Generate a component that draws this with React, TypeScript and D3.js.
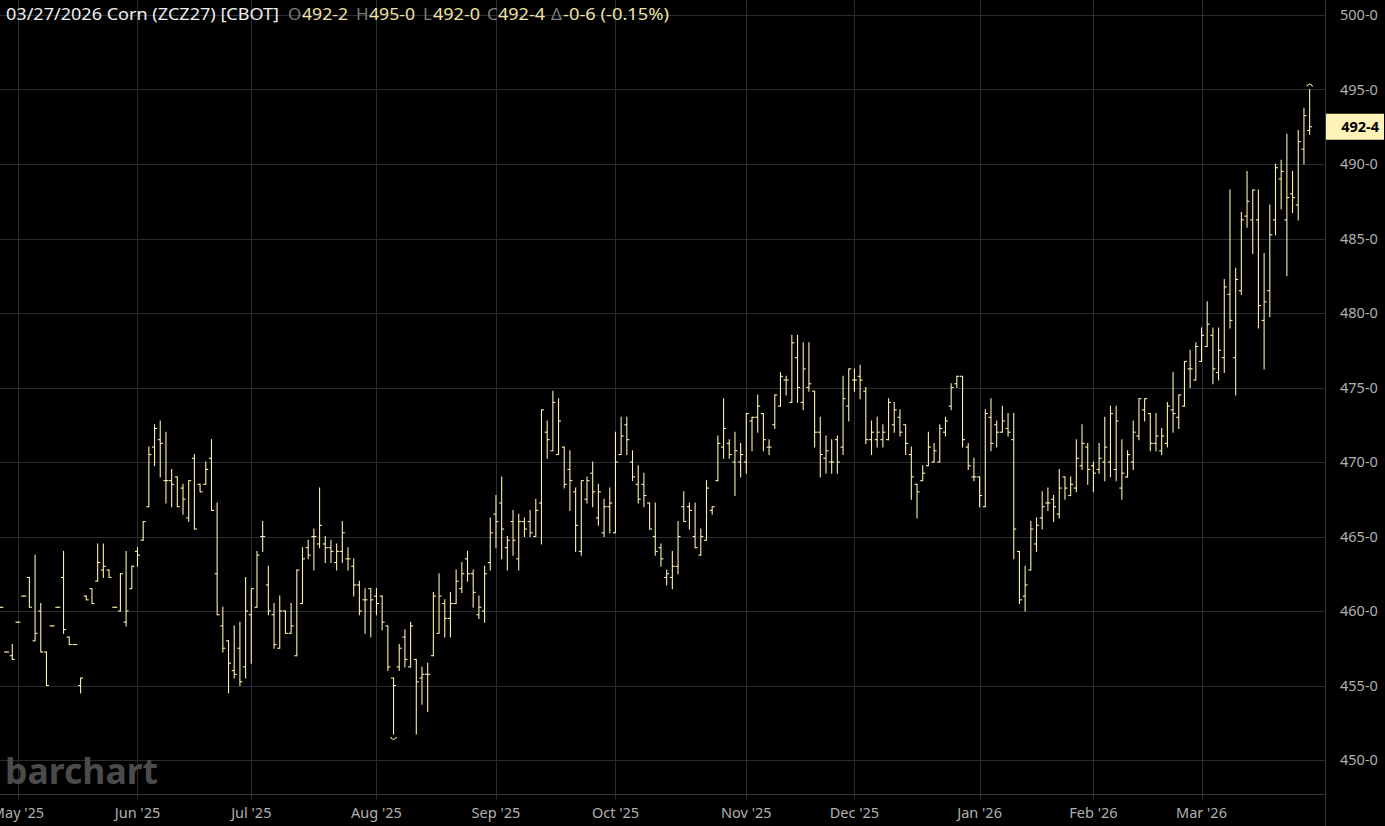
import React from 'react';
import * as d3 from 'd3';

// ---- categories: CBOT trading sessions shown on the chart ----
const FIRST_SESSION = [2025, 3, 28];
const LAST_SESSION = [2026, 2, 27];
const HOLIDAYS = ['2025-05-26', '2025-06-19', '2025-07-04', '2025-09-01', '2025-11-27', '2025-12-25', '2026-01-01', '2026-01-19', '2026-02-16'];

// ---- series values (cents / bushel) ----
const OPEN = [
  460.25, 457.25, 457.0, 459.25, 461.0, 462.25, 458.0, 460.0, 457.25, 459.0,
  460.25, 462.25, 458.25, 457.75, 455.0, 461.0, 461.5, 462.0, 462.75, 462.75,
  460.25, 460.0, 459.25, 461.5, 464.0, 464.75, 467.0, 471.0, 471.5, 468.75,
  468.75, 469.0, 468.25, 466.25, 470.25, 468.5, 468.5, 470.25, 462.5, 459.0,
  458.0, 456.0, 457.5, 456.25, 459.75, 460.25, 465.0, 461.75, 459.75, 457.5,
  460.0, 458.5, 457.0, 460.5, 464.25, 465.0, 464.5, 464.5, 464.25, 463.25,
  464.0, 463.5, 463.0, 461.75, 460.75, 461.5, 461.0, 461.0, 459.0, 455.5,
  456.25, 458.25, 456.25, 456.75, 455.5, 455.75, 457.0, 458.5, 460.5, 459.5,
  460.5, 461.5, 463.5, 462.5, 459.75, 460.0, 463.25, 466.5, 467.25, 464.25,
  466.0, 463.5, 466.0, 466.0, 465.0, 467.25, 472.0, 470.75, 470.5, 471.0,
  469.5, 468.0, 464.0, 467.5, 469.25, 466.25, 465.25, 467.0, 465.25, 470.5,
  472.5, 470.0, 468.5, 468.5, 467.25, 465.0, 464.25, 462.25, 462.25, 463.0,
  467.0, 467.0, 465.0, 463.75, 464.75, 466.75, 468.75, 471.0, 471.25, 470.0,
  470.0, 470.0, 472.75, 473.0, 473.25, 471.0, 472.5, 473.75, 475.5, 474.0,
  477.0, 474.0, 475.0, 474.75, 472.0, 470.25, 470.0, 471.5, 471.0, 473.75,
  475.5, 475.75, 474.75, 471.5, 471.5, 471.5, 471.5, 472.5, 473.0, 472.5,
  470.5, 468.5, 468.75, 469.75, 470.0, 470.0, 472.0, 473.75, 475.25, 475.75,
  471.0, 469.0, 469.0, 467.0, 473.0, 472.5, 472.0, 472.25, 471.5, 464.0,
  461.0, 462.75, 464.5, 466.25, 467.25, 467.5, 466.5, 469.0, 467.75, 468.25,
  469.75, 471.0, 469.75, 469.5, 470.0, 470.0, 469.5, 468.25, 469.0, 470.0,
  471.75, 473.5, 473.25, 471.25, 470.75, 471.25, 473.5, 473.0, 473.75, 476.25,
  475.5, 476.75, 477.75, 478.5, 476.0, 477.0, 481.25, 477.0, 481.5, 486.5,
  486.25, 486.25, 479.5, 481.5, 486.25, 489.0, 486.25, 488.0, 487.25, 491.0,
  492.25,
];
const HIGH = [
  460.25, 457.25, 457.75, 459.25, 461.0, 462.25, 463.75, 460.5, 457.25, 459.0,
  460.25, 464.0, 458.25, 457.75, 455.5, 461.0, 461.5, 464.5, 464.5, 462.75,
  460.25, 462.5, 464.0, 463.0, 464.25, 466.0, 471.0, 472.5, 472.75, 472.0,
  469.5, 469.0, 468.5, 468.75, 470.5, 468.5, 470.0, 471.5, 467.25, 460.25,
  458.0, 459.0, 459.25, 462.25, 461.5, 464.0, 466.0, 463.0, 460.5, 461.0,
  460.0, 460.5, 462.75, 464.25, 464.75, 465.5, 468.25, 465.0, 464.75, 464.5,
  466.0, 464.25, 463.5, 462.0, 461.5, 461.5, 461.5, 461.0, 459.0, 455.5,
  457.75, 458.75, 459.25, 456.75, 456.25, 456.5, 461.25, 462.5, 460.75, 461.25,
  462.75, 463.25, 464.0, 462.75, 461.0, 463.0, 466.25, 467.75, 469.0, 465.0,
  466.75, 466.5, 466.25, 466.75, 467.5, 473.5, 472.75, 474.75, 474.25, 471.0,
  470.75, 468.25, 468.75, 469.0, 470.0, 468.5, 467.5, 468.25, 472.0, 473.0,
  473.0, 470.75, 469.75, 469.25, 467.25, 467.25, 464.5, 462.75, 464.0, 466.0,
  468.0, 467.25, 467.25, 465.5, 468.75, 467.0, 471.75, 474.25, 471.5, 472.0,
  471.25, 473.25, 473.0, 474.5, 473.25, 471.5, 474.5, 476.0, 475.75, 478.5,
  478.5, 478.0, 478.0, 474.75, 473.0, 471.75, 471.5, 471.75, 475.75, 476.25,
  476.25, 476.5, 475.0, 472.75, 473.0, 472.5, 474.25, 474.0, 473.5, 472.5,
  471.0, 468.5, 469.75, 472.0, 471.25, 472.5, 473.0, 475.25, 475.75, 475.75,
  471.25, 470.25, 469.0, 473.5, 474.25, 472.75, 473.75, 473.25, 473.25, 464.0,
  463.0, 466.0, 466.25, 468.0, 468.25, 467.75, 469.5, 469.0, 469.0, 471.5,
  472.5, 471.25, 470.0, 471.25, 473.0, 473.75, 473.75, 471.5, 470.75, 472.75,
  474.25, 474.25, 473.25, 473.25, 472.25, 474.0, 476.0, 474.5, 476.75, 477.5,
  478.0, 479.0, 480.75, 479.0, 479.0, 482.25, 488.25, 483.0, 486.75, 489.5,
  488.25, 488.25, 484.0, 487.25, 490.0, 490.25, 492.0, 489.5, 492.25, 493.75,
  495.0,
];
const LOW = [
  460.25, 457.25, 456.75, 459.25, 461.0, 460.25, 458.0, 457.25, 455.0, 459.0,
  460.25, 458.5, 457.75, 457.75, 454.5, 460.75, 460.5, 462.0, 462.25, 462.25,
  460.25, 460.0, 459.0, 461.5, 463.0, 464.75, 467.0, 469.75, 469.0, 467.25,
  467.0, 467.0, 466.5, 466.0, 465.5, 468.0, 468.5, 466.75, 459.75, 457.25,
  454.5, 455.5, 455.0, 455.5, 456.5, 460.25, 464.0, 459.75, 457.5, 457.5,
  458.5, 458.5, 457.0, 460.5, 463.5, 462.75, 464.25, 463.25, 463.25, 462.75,
  463.25, 462.75, 461.0, 459.75, 458.5, 458.25, 459.75, 458.75, 456.0, 451.75,
  456.0, 456.25, 456.25, 451.75, 453.75, 453.25, 457.0, 458.5, 458.25, 458.25,
  460.5, 461.25, 462.0, 460.25, 459.5, 459.25, 462.75, 464.25, 463.5, 462.75,
  463.75, 462.75, 465.0, 465.0, 465.0, 464.5, 470.25, 470.75, 470.5, 468.25,
  466.75, 464.0, 463.75, 467.25, 467.0, 465.75, 465.0, 465.25, 465.25, 470.5,
  470.5, 468.75, 467.25, 467.0, 465.5, 463.75, 463.0, 461.75, 461.5, 462.5,
  466.0, 465.5, 464.25, 463.75, 464.75, 466.5, 468.75, 470.25, 470.25, 467.75,
  469.0, 469.25, 470.75, 472.0, 470.75, 470.5, 472.25, 473.75, 474.5, 474.0,
  474.0, 473.5, 474.75, 471.0, 469.0, 469.25, 469.25, 469.25, 470.5, 472.75,
  474.75, 474.25, 471.25, 470.5, 471.0, 471.0, 471.5, 472.0, 471.75, 470.5,
  467.5, 466.25, 468.75, 469.75, 470.0, 470.0, 471.75, 473.5, 475.0, 471.0,
  469.5, 468.75, 467.0, 467.0, 470.75, 471.0, 472.0, 471.75, 463.5, 460.5,
  460.0, 462.75, 464.0, 465.5, 466.75, 466.0, 466.25, 467.5, 467.75, 468.0,
  469.5, 468.5, 468.0, 469.25, 468.75, 469.0, 468.75, 467.5, 469.0, 469.5,
  471.5, 472.75, 470.75, 470.75, 470.5, 471.0, 472.0, 472.25, 473.75, 475.0,
  475.5, 476.75, 477.75, 475.25, 475.5, 476.0, 479.0, 474.5, 481.25, 485.75,
  484.0, 479.0, 476.25, 479.75, 485.25, 487.0, 482.5, 486.75, 486.25, 490.0,
  492.0,
];
const CLOSE = [
  460.25, 457.25, 456.75, 459.25, 461.0, 460.25, 458.5, 457.25, 455.0, 459.0,
  460.25, 458.75, 457.75, 457.75, 455.5, 460.75, 460.5, 463.25, 463.0, 462.25,
  460.25, 462.5, 460.0, 463.0, 463.75, 466.0, 470.5, 472.25, 471.25, 468.75,
  468.5, 467.0, 467.5, 468.75, 465.5, 468.0, 469.5, 466.75, 459.75, 457.5,
  456.5, 455.75, 455.25, 460.0, 461.5, 463.75, 465.0, 460.0, 457.75, 460.0,
  458.5, 459.0, 462.75, 463.5, 463.75, 465.0, 465.75, 464.25, 464.0, 464.0,
  465.25, 463.5, 461.75, 460.0, 460.75, 460.75, 460.5, 459.25, 456.25, 455.0,
  457.5, 456.75, 459.0, 455.25, 455.75, 455.75, 461.0, 461.0, 459.5, 460.5,
  462.0, 462.5, 462.5, 461.25, 460.25, 462.5, 465.25, 466.0, 465.5, 464.75,
  464.75, 466.0, 465.5, 465.25, 466.75, 473.5, 471.5, 474.0, 472.75, 468.5,
  468.75, 465.75, 468.75, 468.75, 468.0, 468.0, 467.0, 467.25, 470.0, 471.75,
  471.5, 469.0, 467.5, 467.75, 465.5, 464.0, 463.5, 462.5, 463.0, 465.0,
  466.0, 466.75, 464.25, 465.0, 468.25, 467.0, 471.25, 472.25, 470.5, 470.75,
  470.5, 473.25, 473.0, 473.75, 471.5, 471.0, 474.5, 475.75, 475.5, 478.0,
  475.0, 476.25, 475.25, 472.0, 470.5, 470.75, 470.0, 470.0, 474.25, 476.25,
  475.5, 475.5, 471.5, 472.0, 472.0, 472.0, 474.0, 473.5, 472.0, 471.25,
  469.0, 468.0, 469.25, 471.0, 470.75, 472.25, 472.75, 475.0, 475.75, 471.5,
  469.75, 469.0, 467.75, 473.25, 471.25, 472.0, 472.75, 472.0, 465.5, 460.75,
  461.75, 465.5, 465.75, 467.0, 467.25, 467.0, 468.25, 468.25, 468.5, 470.25,
  471.25, 469.5, 469.25, 470.25, 471.0, 473.25, 472.75, 469.25, 470.5, 472.0,
  474.25, 474.25, 471.25, 471.75, 471.75, 473.75, 473.25, 474.5, 476.75, 476.25,
  477.75, 478.5, 479.25, 476.25, 477.5, 481.75, 479.5, 482.25, 486.25, 487.5,
  488.25, 480.5, 480.75, 485.25, 489.75, 489.5, 487.75, 487.75, 491.5, 493.25,
  492.5,
];
const PRICE_TICKS = [450, 455, 460, 465, 470, 475, 480, 485, 490, 495, 500];

const W = 1385;
const H = 826;
const PLOT_RIGHT = 1325;
const PLOT_BOTTOM = 794;
const BAR_COLOR = '#fbf0aa';
const GRID = '#282d35';

function sessions(): Date[] {
  const out: Date[] = [];
  const fmt = d3.timeFormat('%Y-%m-%d');
  const d = new Date(FIRST_SESSION[0], FIRST_SESSION[1], FIRST_SESSION[2]);
  const end = new Date(LAST_SESSION[0], LAST_SESSION[1], LAST_SESSION[2]);
  while (d <= end) {
    const dow = d.getDay();
    if (dow !== 0 && dow !== 6 && !HOLIDAYS.includes(fmt(d))) out.push(new Date(d));
    d.setDate(d.getDate() + 1);
  }
  return out;
}

function fmtPrice(v: number): string {
  const whole = Math.floor(v);
  const eighths = Math.round((v - whole) * 8);
  return `${whole}-${eighths}`;
}

export default function App() {
  const days = sessions();
  const n = OPEN.length;
  const x = d3.scaleLinear().domain([0, n - 1]).range([0.93, 0.93 + (n - 1) * 5.69]);
  const y = d3.scaleLinear().domain([450, 500]).range([760, 15]);
  const monthFmt = d3.timeFormat("%b '%y");

  const monthStarts: { i: number; label: string }[] = [];
  days.forEach((d, i) => {
    if (i > 0 && d.getMonth() !== days[i - 1].getMonth()) monthStarts.push({ i, label: monthFmt(d) });
  });

  const snap = (v: number) => Math.round(v) + 0.5;

  const hiIdx = d3.maxIndex(HIGH);
  const loIdx = d3.minIndex(LOW);
  const last = CLOSE[n - 1];
  const prev = CLOSE[n - 2];
  const chg = last - prev;
  const pct = (chg / prev) * 100;
  const chgStr = `${chg < 0 ? '-' : ''}${fmtPrice(Math.abs(chg))} (${pct.toFixed(2)}%)`;

  const font = "'Noto Sans', 'Open Sans', sans-serif";
  const valColor = '#efe4a2';
  const keyColor = '#7d7d7d';

  return (
    <svg width={W} height={H} style={{ position: 'fixed', left: 0, top: 0, background: '#000' }}>
      <rect x={0} y={0} width={W} height={H} fill="#000" />
      {PRICE_TICKS.map((t) => (
        <line key={'h' + t} x1={0} x2={PLOT_RIGHT} y1={snap(y(t))} y2={snap(y(t))} stroke={GRID} strokeWidth={1} />
      ))}
      {monthStarts.map((m) => (
        <line key={'v' + m.i} x1={snap(x(m.i))} x2={snap(x(m.i))} y1={0} y2={PLOT_BOTTOM + 6} stroke={GRID} strokeWidth={1} />
      ))}
      <line x1={PLOT_RIGHT + 0.5} x2={PLOT_RIGHT + 0.5} y1={0} y2={H} stroke="#333942" />
      <line x1={0} x2={PLOT_RIGHT} y1={PLOT_BOTTOM + 0.5} y2={PLOT_BOTTOM + 0.5} stroke="#333942" />

      <text x={5} y={784} fontFamily={font} fontWeight={700} fontSize={36} fill="#4b4b4b" textLength={153} lengthAdjust="spacingAndGlyphs">barchart</text>

      <g stroke={BAR_COLOR} strokeWidth={1.1} fill="none">
        {OPEN.map((o, i) => {
          const cx = x(i);
          return (
            <g key={i}>
              <line x1={cx} x2={cx} y1={y(HIGH[i]) - 0.5} y2={y(LOW[i]) + 0.5} />
              <line x1={cx - 2.5} x2={cx} y1={y(o)} y2={y(o)} />
              <line x1={cx} x2={cx + 2.5} y1={y(CLOSE[i])} y2={y(CLOSE[i])} />
            </g>
          );
        })}
        <path d={`M${x(hiIdx) - 3},${y(HIGH[hiIdx]) - 3} Q${x(hiIdx)},${y(HIGH[hiIdx]) - 8} ${x(hiIdx) + 3},${y(HIGH[hiIdx]) - 3}`} />
        <path d={`M${x(loIdx) - 3},${y(LOW[loIdx]) + 3} Q${x(loIdx)},${y(LOW[loIdx]) + 8} ${x(loIdx) + 3},${y(LOW[loIdx]) + 3}`} />
      </g>

      {PRICE_TICKS.map((t) => (
        <text key={'t' + t} x={1340} y={y(t)} dy="0.35em" fontFamily={font} fontSize={14.5} fill="#b0b0b0">{fmtPrice(t)}</text>
      ))}
      <rect x={PLOT_RIGHT + 1} y={y(last) - 13} width={58} height={26} fill="#fff3b8" />
      <text x={1379} y={y(last)} dy="0.35em" textAnchor="end" fontFamily={font} fontWeight={700} fontSize={14.5} fill="#000">{fmtPrice(last)}</text>

      {monthStarts.map((m) => (
        <text key={'m' + m.i} x={x(m.i)} y={818} textAnchor="middle" fontFamily={font} fontSize={14.5} fill="#b0b0b0">{m.label}</text>
      ))}

      <g fontFamily={font} fontSize={17}>
        <text x={6} y={20} fill="#f0f0f0" textLength={273} lengthAdjust="spacingAndGlyphs">03/27/2026 Corn (ZCZ27) [CBOT]</text>
        <text x={288} y={20} fill={keyColor}>O</text>
        <text x={302} y={20} fill={valColor} textLength={46} lengthAdjust="spacingAndGlyphs">{fmtPrice(OPEN[n - 1])}</text>
        <text x={356} y={20} fill={keyColor}>H</text>
        <text x={369} y={20} fill={valColor} textLength={46} lengthAdjust="spacingAndGlyphs">{fmtPrice(HIGH[n - 1])}</text>
        <text x={423} y={20} fill={keyColor}>L</text>
        <text x={433} y={20} fill={valColor} textLength={47} lengthAdjust="spacingAndGlyphs">{fmtPrice(LOW[n - 1])}</text>
        <text x={487} y={20} fill={keyColor}>C</text>
        <text x={498} y={20} fill={valColor} textLength={47} lengthAdjust="spacingAndGlyphs">{fmtPrice(last)}</text>
        <text x={551} y={20} fill={keyColor}>Δ</text>
        <text x={563} y={20} fill={valColor} textLength={106} lengthAdjust="spacingAndGlyphs">{chgStr}</text>
      </g>
    </svg>
  );
}
